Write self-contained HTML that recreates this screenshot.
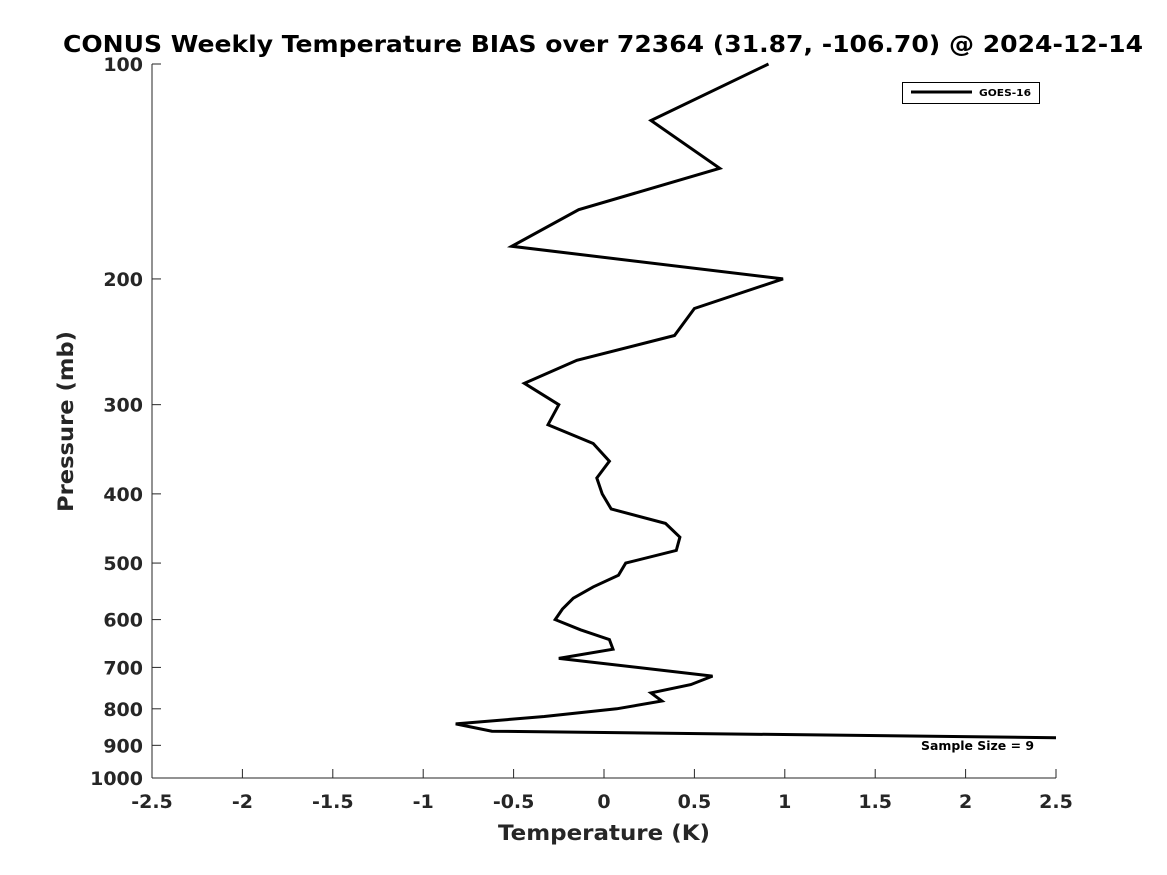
<!DOCTYPE html>
<html><head><meta charset="utf-8"><style>
body{margin:0;background:#fff}
svg{display:block;font-family:"DejaVu Sans","Liberation Sans",sans-serif;font-weight:bold}
</style></head><body>
<svg id="chart" width="1167" height="875" viewBox="0 0 1167 875">
<rect width="1167" height="875" fill="#fff"/>
<text x="63" y="52" font-size="23" textLength="1080" lengthAdjust="spacingAndGlyphs">CONUS Weekly Temperature BIAS over 72364 (31.87, -106.70) @ 2024-12-14</text>
<g id="axes"></g>
<path id="line" fill="none" stroke="#000" stroke-width="3" stroke-linejoin="miter"/>
<g>
<rect x="902.5" y="82.5" width="137" height="21" fill="#fff" stroke="#000" stroke-width="1"/>
<line x1="911" y1="92" x2="972" y2="92" stroke="#000" stroke-width="3"/>
<text x="979" y="96" font-size="9.5" textLength="52" lengthAdjust="spacingAndGlyphs">GOES-16</text>
</g>
<text x="921" y="750" font-size="12" textLength="113" lengthAdjust="spacingAndGlyphs">Sample Size = 9</text>
<text x="498" y="840" font-size="21" fill="#262626" textLength="212" lengthAdjust="spacingAndGlyphs">Temperature (K)</text>
<text transform="translate(73,512) rotate(-90)" font-size="21" fill="#262626" textLength="181" lengthAdjust="spacingAndGlyphs">Pressure (mb)</text>
</svg>
<script>
const pressures=[100,120,140,160,180,200,220,240,260,280,300,320,340,360,380,400,420,440,460,480,500,520,540,560,580,600,620,640,660,680,720,740,760,780,800,820,840,860,878];
const biasValues=[0.91,0.26,0.64,-0.14,-0.51,0.99,0.50,0.39,-0.15,-0.44,-0.25,-0.31,-0.06,0.03,-0.04,-0.01,0.04,0.34,0.42,0.40,0.12,0.08,-0.06,-0.17,-0.23,-0.27,-0.13,0.03,0.05,-0.25,0.60,0.48,0.26,0.32,0.07,-0.33,-0.82,-0.62,2.5];
const xTicks=[-2.5,-2,-1.5,-1,-0.5,0,0.5,1,1.5,2,2.5];
const xTickLabels=["-2.5","-2","-1.5","-1","-0.5","0","0.5","1","1.5","2","2.5"];
const yTicks=[100,200,300,400,500,600,700,800,900,1000];
const yTickLabels=["100","200","300","400","500","600","700","800","900","1000"];
const X0=152,X1=1056,Y0=64,Y1=778;
function xs(v){return X0+(v+2.5)/5*(X1-X0);}
function ys(p){return Y0+Math.log10(p/100)*(Y1-Y0);}
const NS="http://www.w3.org/2000/svg";
const ax=document.getElementById('axes');
function mk(t,a){const e=document.createElementNS(NS,t);for(const k in a)e.setAttribute(k,a[k]);return e;}
const xl=mk('line',{x1:X0,y1:Y1,x2:X1,y2:Y1,stroke:'#262626','stroke-width':1});


ax.appendChild(xl);
const yl=mk('line',{x1:X0,y1:Y0,x2:X0,y2:Y1,stroke:'#262626','stroke-width':1});


ax.appendChild(yl);
xTicks.forEach((v,i)=>{const x=xs(v);
ax.appendChild(mk('line',{x1:x,y1:Y1,x2:x,y2:Y1-9,stroke:'#262626'}));
const t=mk('text',{x:x,y:808,'text-anchor':'middle','font-size':19,fill:'#262626'});t.textContent=xTickLabels[i];


ax.appendChild(t);});
yTicks.forEach((p,i)=>{const y=ys(p);
ax.appendChild(mk('line',{x1:X0,y1:y,x2:X0+9,y2:y,stroke:'#262626'}));
const t=mk('text',{x:X0-9,y:y+7,'text-anchor':'end','font-size':19,fill:'#262626'});t.textContent=yTickLabels[i];


ax.appendChild(t);});
document.getElementById('line').setAttribute('d',pressures.map((p,i)=>(i?'L':'M')+xs(biasValues[i]).toFixed(1)+','+ys(p).toFixed(1)).join(''));
</script>
</body></html>
